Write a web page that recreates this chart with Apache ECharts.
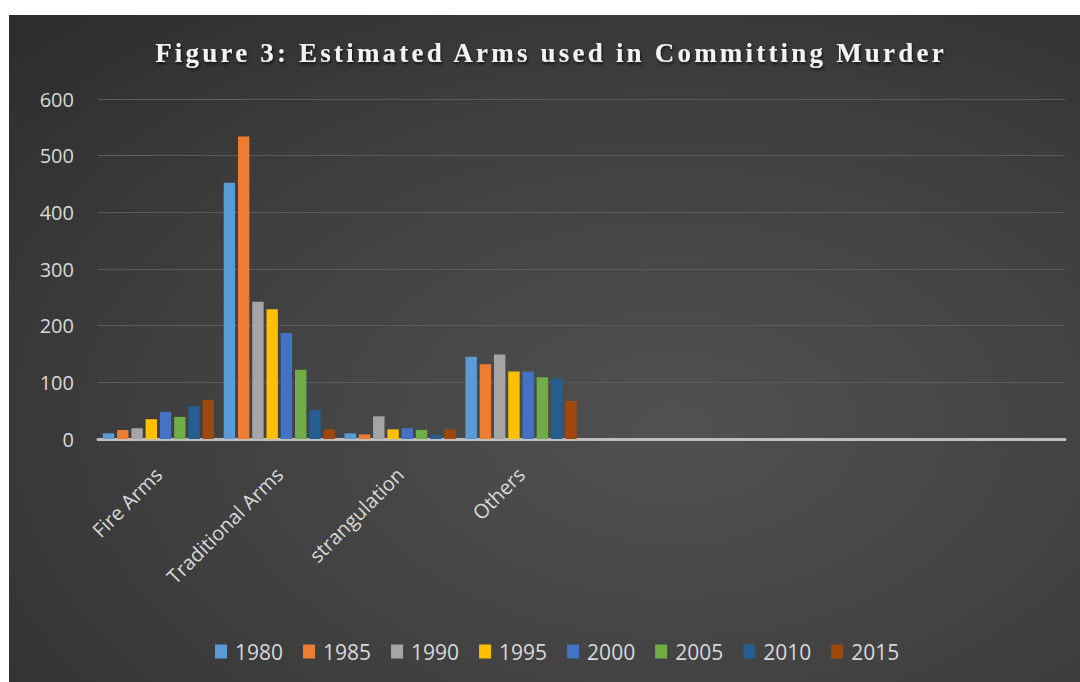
<!DOCTYPE html>
<html>
<head>
<meta charset="utf-8">
<script src="https://cdn.jsdelivr.net/npm/echarts@6/dist/echarts.min.js"></script>
<style>
  html, body { margin: 0; padding: 0; background: #ffffff; }
  #chart { width: 1080px; height: 682px; }
  /* spaced-out serif heading */
  #chart text[style*="Times New Roman"] { letter-spacing: 3.2px; }
</style>
</head>
<body>
<div id="chart"></div>
<script>
// Weapon categories (the last four slots are left empty on the axis)
const categories = ['Fire Arms', 'Traditional Arms', 'strangulation', 'Others', '', '', '', ''];
const years = ['1980', '1985', '1990', '1995', '2000', '2005', '2010', '2015'];

// Estimated murders per category, one array per year
const v1980 = [10, 452, 10, 145];
const v1985 = [16, 534, 8, 132];
const v1990 = [19, 242, 40, 149];
const v1995 = [35, 229, 17, 119];
const v2000 = [48, 187, 19, 119];
const v2005 = [39, 122, 16, 109];
const v2010 = [58, 51, 7, 107];
const v2015 = [69, 17, 17, 67];
const seriesValues = [v1980, v1985, v1990, v1995, v2000, v2005, v2010, v2015];

const yTicks = { min: 0, max: 600, interval: 100 };

const palette = ['#5B9BD5', '#ED7D31', '#A5A5A5', '#FFC000', '#4472C4', '#70AD47', '#255E91', '#9E480E'];

const chart = echarts.init(document.getElementById('chart'), null, { renderer: 'svg' });

const labelFont = "'Open Sans', 'Noto Sans', sans-serif";

chart.setOption({
  animation: false,
  color: palette,
  graphic: [{
    type: 'rect',
    z: -10,
    silent: true,
    shape: { x: 9, y: 15, width: 1071, height: 667 },
    style: {
      fill: {
        type: 'radial', x: 0.62, y: 0.62, r: 1.0,
        colorStops: [
          { offset: 0, color: '#515151' },
          { offset: 0.5, color: '#3e3e3e' },
          { offset: 1, color: '#262626' }
        ]
      }
    }
  }],
  title: {
    text: 'Figure 3: Estimated Arms used in Committing Murder',
    left: 546,
    top: 34,
    textAlign: 'center',
    textStyle: {
      color: '#f2f2f2',
      fontFamily: "'Liberation Serif', 'Times New Roman', serif",
      fontWeight: 'bold',
      fontSize: 27,
      textShadowColor: 'rgba(0,0,0,0.7)',
      textShadowBlur: 3,
      textShadowOffsetX: 1,
      textShadowOffsetY: 2
    }
  },
  legend: {
    data: years,
    left: 210,
    top: 636,
    itemWidth: 12,
    itemHeight: 14,
    itemGap: 20,
    icon: 'rect',
    textStyle: { color: '#d9d9d9', fontSize: 21, fontFamily: labelFont, padding: [0, 0, 0, 3] }
  },
  grid: { left: 98, right: 15, top: 99, bottom: 243, containLabel: false },
  xAxis: {
    type: 'category',
    data: categories,
    axisLine: { show: true, lineStyle: { color: '#bfbfbf', width: 3 } },
    axisTick: { show: false },
    axisLabel: {
      rotate: 45,
      interval: 0,
      margin: 32,
      color: '#d9d9d9',
      fontSize: 20,
      fontFamily: labelFont
    }
  },
  yAxis: {
    type: 'value',
    min: yTicks.min,
    max: yTicks.max,
    interval: yTicks.interval,
    axisLine: { show: false },
    axisTick: { show: false },
    splitLine: { lineStyle: { color: '#5c5c5c', width: 1 } },
    axisLabel: {
      color: '#d9d9d9',
      fontSize: 20,
      fontFamily: labelFont,
      margin: 24
    }
  },
  series: years.map((y, i) => ({
    name: y,
    type: 'bar',
    data: seriesValues[i],
    barGap: '25%',
    barCategoryGap: '8%',
    itemStyle: { color: palette[i] }
  }))
});
</script>
</body>
</html>
